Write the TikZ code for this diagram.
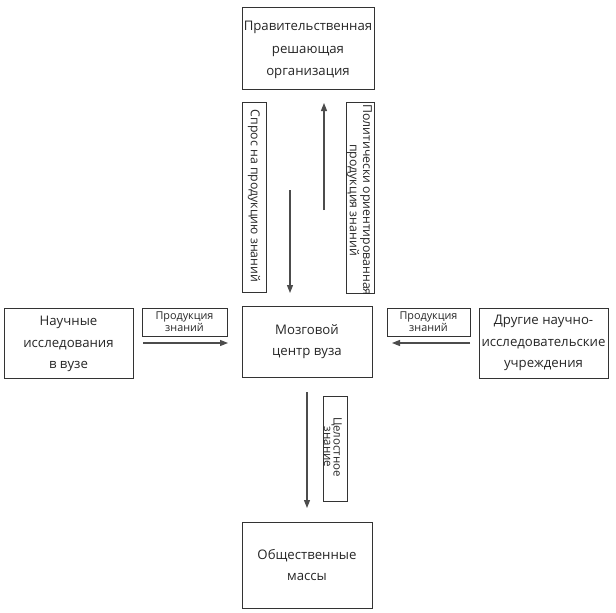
\documentclass[tikz,border=0pt]{standalone}
\usepackage{fontspec}
\setmainfont{Open Sans}
\usetikzlibrary{arrows.meta}
\begin{document}
\begin{tikzpicture}[x=1pt,y=-1pt,
  box/.style={draw=black!80, line width=0.9pt, align=center, inner sep=0pt,
    font=\fontsize{13.2}{21.5}\selectfont, text=black!85},
  lbl/.style={draw=black!80, line width=0.9pt, inner sep=0pt},
  lbltext/.style={align=center, inner sep=0pt, text=black!85},
  arr/.style={-{Triangle[length=8pt,width=6pt]}, line width=1.1pt, draw=black!70}]
\useasboundingbox (0,0) rectangle (616,613);
% main boxes
\node[box, minimum width=132pt, minimum height=82pt] (gov) at (308,48) {};
\node[box, draw=none, font=\fontsize{13.2}{22.5}\selectfont] (govt) at (308,50) {Правительственная\\решающая\\организация};
\node[box, minimum width=130pt, minimum height=71pt] (brain) at (307,341.5) {Мозговой\\центр вуза};
\node[box, minimum width=129pt, minimum height=70pt] (sci) at (68.5,343) {};
\node[box, draw=none] (scit) at (68.5,344) {Научные\\исследования\\в вузе};
\node[box, minimum width=129pt, minimum height=70pt] (oth) at (543.5,343) {Другие научно-\\исследовательские\\учреждения};
\node[box, minimum width=130pt, minimum height=86pt] (mass) at (307,565) {Общественные\\массы};
% label boxes
\node[lbl, minimum width=85pt, minimum height=28pt] (lb1) at (184.5,322) {};
\node[lbltext, font=\fontsize{10.8}{12}\selectfont] (lt1) at (184.5,322) {Продукция\\знаний};
\node[lbl, minimum width=83pt, minimum height=28pt] (lb2) at (428.5,322) {};
\node[lbltext, font=\fontsize{10.8}{12}\selectfont] (lt2) at (428.5,322) {Продукция\\знаний};
\node[lbl, rotate=-90, minimum width=190pt, minimum height=24pt] (lb3) at (254,197) {};
\node[lbltext, rotate=-90, font=\fontsize{12.3}{12}\selectfont] (lt3) at (254,196) {Спрос на продукцию знаний};
\node[lbl, rotate=-90, minimum width=191pt, minimum height=28pt] (lb4) at (360,197.5) {};
\node[lbltext, rotate=-90, font=\fontsize{12.3}{10.5}\selectfont] (lt4) at (359.5,200) {Политически ориентированная\\продукция знаний};
\node[lbl, rotate=-90, minimum width=105pt, minimum height=24pt] (lb5) at (335,448.5) {};
\node[lbltext, rotate=-90, font=\fontsize{11.5}{9.5}\selectfont] (lt5) at (333,447) {Целостное\\знание};
% arrows
\coordinate (a1s) at (143,343); \coordinate (a1e) at (228,343);
\coordinate (a2s) at (470,343); \coordinate (a2e) at (392,343);
\coordinate (a3s) at (290,190); \coordinate (a3e) at (290,293);
\coordinate (a4s) at (324,210); \coordinate (a4e) at (324,103);
\coordinate (a5s) at (307,392); \coordinate (a5e) at (307,508);
\draw[arr] (a1s) -- (a1e);
\draw[arr] (a2s) -- (a2e);
\draw[arr] (a3s) -- (a3e);
\draw[arr] (a4s) -- (a4e);
\draw[arr] (a5s) -- (a5e);
\end{tikzpicture}
\end{document}
